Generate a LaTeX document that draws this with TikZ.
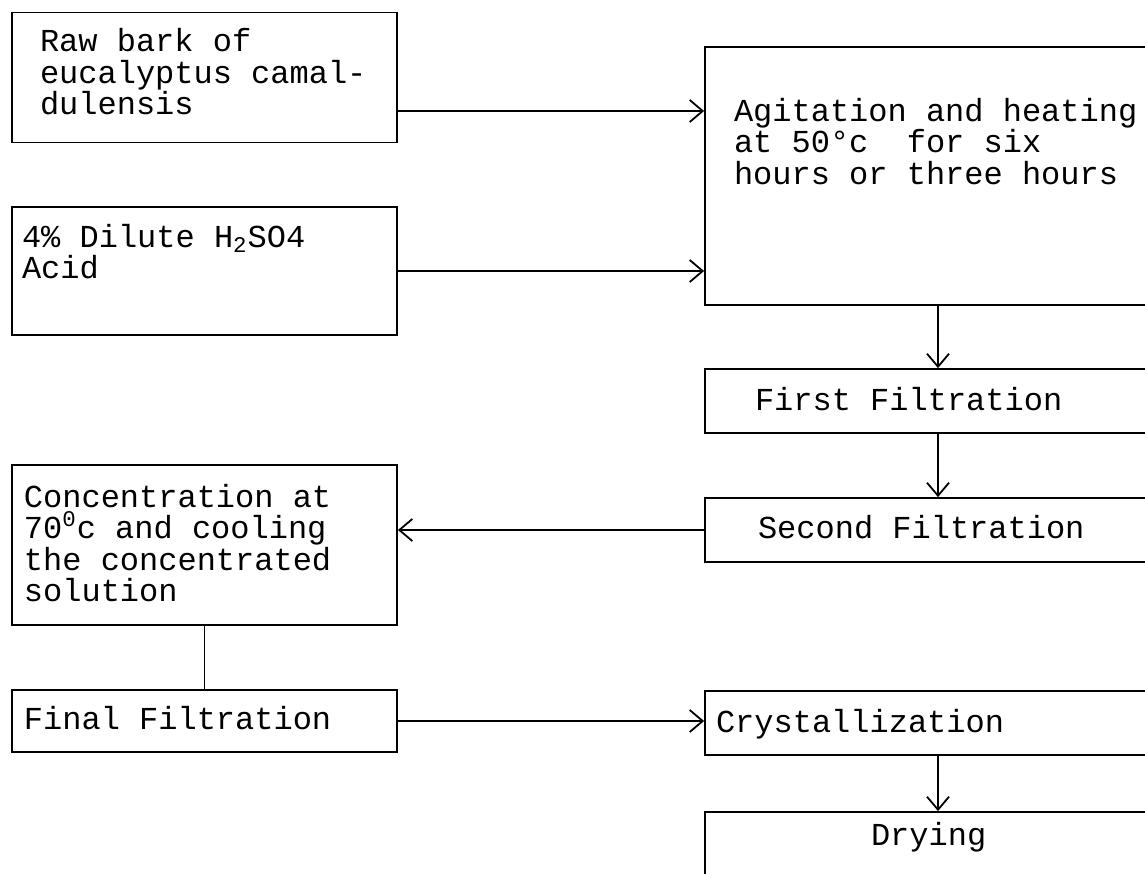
\documentclass[tikz,border=0pt]{standalone}
\usepackage{fontspec}
\setmainfont{Liberation Mono}
\setmonofont{Liberation Mono}
\usepackage{tikz}
\usetikzlibrary{arrows.meta}
\newcommand{\stagefont}{\ttfamily\fontsize{16}{15.8}\selectfont}

\begin{document}
\begin{tikzpicture}[x=0.5pt,y=-0.5pt,
  stage/.style={draw,rectangle,line width=0.9pt,inner sep=0pt,align=left,
    text height=10pt,font=\stagefont,
    execute at begin node={\spaceskip=0.6em\relax\xspaceskip=0.6em\relax}},
  leftcol/.style={stage,minimum width=192.5pt},
  rightcol/.style={stage,minimum width=233pt},
  flow/.style={line width=0.8pt,-{Straight Barb[length=6.5pt,width=11pt,line width=0.9pt]}}]
\useasboundingbox (0,0) rectangle (1145,873);
\clip (0,0) rectangle (1145,873);
\fill[white] (0,0) rectangle (1145,873);
%left column
\path (204.5,77.5) node(raw) [leftcol,minimum height=65pt,text width=164.5pt,text depth=36pt]{Raw bark of\\eucalyptus camal-\\dulensis};
\path (204.5,271) node(acid) [leftcol,minimum height=64pt,text width=182.5pt,text depth=34pt]{4\% Dilute H\textsubscript{2}SO4\\Acid};
\path (204.5,545) node(conc) [leftcol,minimum height=80pt,text width=180.5pt,text depth=48pt]{Concentration at\\70\textsuperscript{0}c and cooling\\the concentrated\\solution};
\path (204.5,721) node(final) [leftcol,minimum height=31pt,text width=180.5pt,text depth=2pt]{Final Filtration};
%right column
\path (938,176) node(agit) [rightcol,minimum height=129pt,text width=204pt,text depth=65pt]{Agitation and heating\\at 50°c\ \ for six\\hours or three hours};
\path (938,401) node(first) [rightcol,minimum height=32pt,text width=183pt,text depth=1pt]{First Filtration};
\path (938,530) node(second) [rightcol,minimum height=32pt,text width=180pt,text depth=2pt]{Second Filtration};
\path (938,723) node(cryst) [rightcol,minimum height=32pt,text width=222pt,text depth=1pt]{Crystallization};
\path (938,844) node(dry) [rightcol,minimum height=32pt,text width=67pt,text depth=9pt]{Drying};
%connectors
\draw[flow] ([yshift=-16.75pt]raw.east) -- ([yshift=-16.75pt]raw.east -| agit.west);
\draw[flow] (acid.east) -- (acid.east -| agit.west);
\draw[flow] (agit.south) -- (first.north);
\draw[flow] (first.south) -- (second.north);
\draw[flow] (second.west) -- (second.west -| conc.east);
\draw[line width=0.8pt] (conc.south) -- (final.north);
\draw[flow] (final.east) -- (final.east -| cryst.west);
\draw[flow] (cryst.south) -- (dry.north);
\end{tikzpicture}
\end{document}
